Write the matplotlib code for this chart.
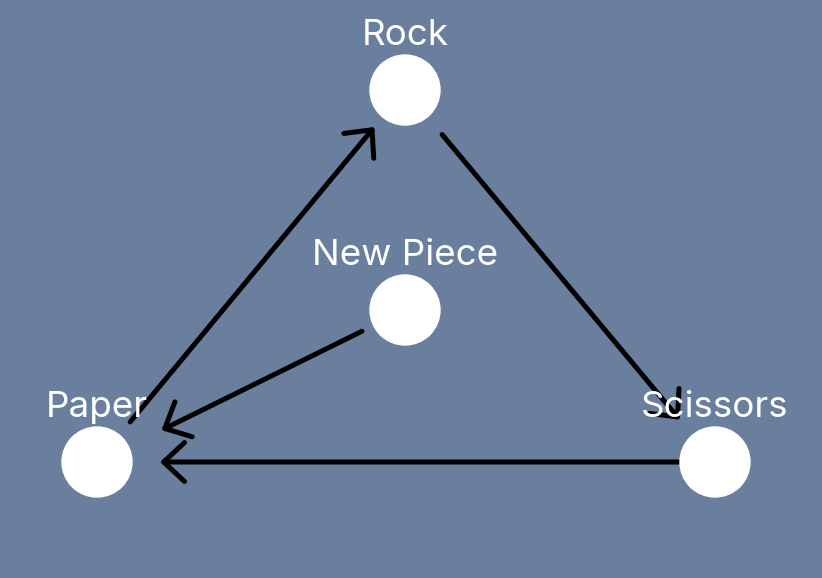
import matplotlib
matplotlib.use('Agg')
import matplotlib.pyplot as plt
from matplotlib.patches import Circle, FancyArrowPatch

# node names and positions (pixels, y downwards)
names = ['Rock', 'New Piece', 'Paper', 'Scissors']
node_x = [405, 405, 97, 715]
node_y = [90, 310, 462, 462]

# edges: source, target, gap at source (px), gap at target (px)
edge_src = ['Paper', 'Rock', 'Scissors', 'New Piece']
edge_dst = ['Rock', 'Scissors', 'Paper', 'Paper']
gap_src = [52, 58, 35, 48]
gap_dst = [48, 55, 63, 72]

bg = '#6a7f9d'
px = 72 / 100  # points per pixel

fig = plt.figure(figsize=(8.22, 5.78), dpi=100, facecolor=bg)
ax = fig.add_axes([0, 0, 1, 1])
ax.set_facecolor(bg)
ax.set_xlim(0, 822)
ax.set_ylim(578, 0)
ax.set_aspect('equal')
ax.axis('off')

pos = {n: (x, y) for n, x, y in zip(names, node_x, node_y)}

for s, d, ga, gb in zip(edge_src, edge_dst, gap_src, gap_dst):
    arr = FancyArrowPatch(pos[s], pos[d],
                          arrowstyle='->,head_length=15,head_width=14',
                          mutation_scale=1, lw=5 * px, color='black',
                          shrinkA=ga * px, shrinkB=gb * px, zorder=2,
                          capstyle='round', joinstyle='round')
    ax.add_patch(arr)

for n in names:
    x, y = pos[n]
    ax.add_patch(Circle((x, y), 35, color='white', zorder=3))
    ax.text(x, y - 45, n, color='white', fontsize=26.5, family=['Inter', 'DejaVu Sans'],
            ha='center', va='baseline', zorder=4)

fig.savefig('out.png', dpi=100, facecolor=bg)
